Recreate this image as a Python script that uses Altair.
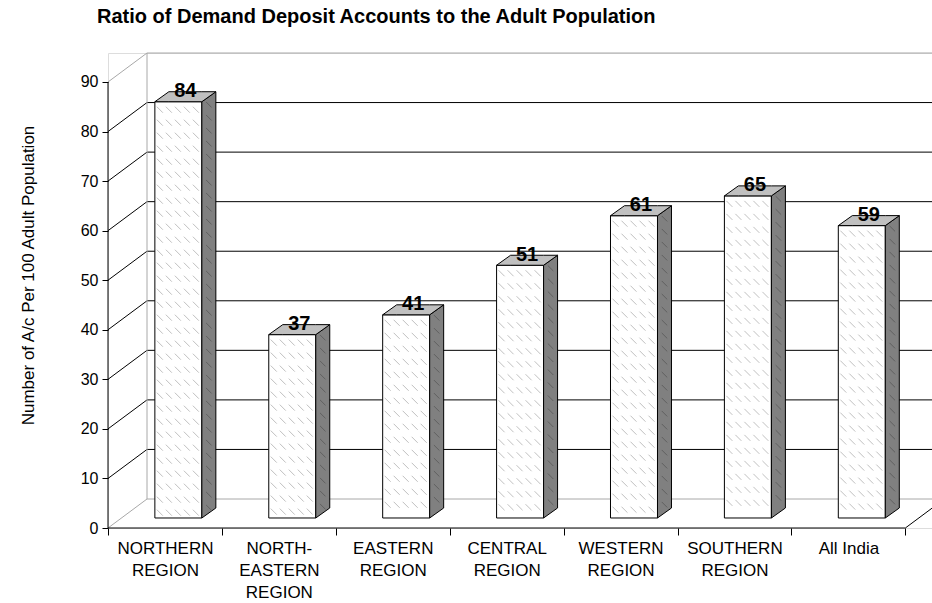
import json
import altair as alt
import numpy as np
import pandas as pd

# ---------------- data ----------------
categories = ["NORTHERN\nREGION", "NORTH-\nEASTERN\nREGION", "EASTERN\nREGION",
              "CENTRAL\nREGION", "WESTERN\nREGION", "SOUTHERN\nREGION", "All India"]
values = [84, 37, 41, 51, 61, 65, 59]
y_ticks = [0, 10, 20, 30, 40, 50, 60, 70, 80, 90]
chart_title = "Ratio of Demand Deposit Accounts to the Adult Population"
y_title = "Number of A/c Per 100 Adult Population"

# ---------------- 3-D geometry (data units) ----------------
N = len(categories)
X_MAX, Y_MAX = 7.234, 95.85          # visible extent of the scales
PX_X, PX_Y = 113.9, 4.956           # pixels per unit (for hatch spacing only)
WALL_DX, WALL_DY = 0.3424, 5.85      # depth of back wall
BAR_DX, BAR_DY = 0.1177, 2.018       # front plane of bars
DEP_DX, DEP_DY = 0.1229, 2.018       # bar depth
HALF_W = 0.2063                      # half of bar front width
FONT = "Liberation Sans"
GRAY = "#a8a8a8"

xs = alt.Scale(domain=[0, X_MAX], nice=False, zero=False)
ys = alt.Scale(domain=[0, Y_MAX], nice=False, zero=False)


def clip_x(x0, y0, x1, y1):
    """truncate a segment at the right edge of the view"""
    if x1 <= X_MAX:
        return x1, y1
    t = (X_MAX - x0) / (x1 - x0)
    return X_MAX, y0 + t * (y1 - y0)


# ---------------- walls / grid ----------------
rows = []
for v in y_ticks:
    col = "black" if 0 < v < 90 else GRAY
    rows.append(dict(x=0, y=v, x2=WALL_DX, y2=v + WALL_DY, c=col))
    rows.append(dict(x=WALL_DX, y=v + WALL_DY, x2=X_MAX, y2=v + WALL_DY, c=col))
rows.append(dict(x=WALL_DX, y=WALL_DY, x2=WALL_DX, y2=y_ticks[-1] + WALL_DY, c=GRAY))
ex, ey = clip_x(N, 0, N + WALL_DX, WALL_DY)
rows.append(dict(x=N, y=0, x2=ex, y2=ey, c="black"))
rows.append(dict(x=0, y=0, x2=N, y2=0, c="black"))
rows.append(dict(x=0, y=0, x2=0, y2=y_ticks[-1], c="black"))
grid_df = pd.DataFrame(rows)

names_expr = json.dumps(["|".join(c.split("\n")) for c in categories])
x_axis = alt.Axis(values=list(range(N + 1)), tickSize=7, tickColor="black", tickWidth=1,
                  domain=False, grid=False, title=None,
                  labelOffset=PX_X / 2, labelOverlap=False, labelFlush=False,
                  labelExpr=f"datum.value < {N} ? split({names_expr}[datum.value], '|') : ''",
                  labelFont=FONT, labelFontSize=17, labelColor="black",
                  labelBaseline="top", labelPadding=5, labelLineHeight=22, labelAlign="center")
y_axis = alt.Axis(values=y_ticks, tickSize=6, tickColor="black", tickWidth=1,
                  domain=False, grid=False, labelFont=FONT, labelFontSize=16,
                  labelColor="black", labelPadding=4,
                  title=y_title, titleFont=FONT, titleFontSize=17, titleFontWeight="normal",
                  titleColor="black", titleAngle=270, titleAlign="center",
                  titleBaseline="middle", titleX=-80, titleY=222)


def X(f):
    return alt.X(f, type="quantitative", scale=xs, axis=x_axis)


def Y(f):
    return alt.Y(f, type="quantitative", scale=ys, axis=y_axis)


grid = alt.Chart(grid_df).mark_rule(strokeWidth=1).encode(
    x=X("x"), x2="x2:Q", y=Y("y"), y2="y2:Q",
    color=alt.Color("c:N", scale=None),
)

# ---------------- bars ----------------
front, side, top, hatch_f, hatch_s, labels = [], [], [], [], [], []
for i, (cat, v) in enumerate(zip(categories, values)):
    c = i + 0.5 + BAR_DX
    x1, x2 = c - HALF_W, c + HALF_W
    y1, y2 = BAR_DY, v + BAR_DY
    front.append(dict(b=i, x1=x1, x2=x2, y1=y1, y2=y2))
    side += [dict(b=i, x=x2, lo=y1, hi=y2),
             dict(b=i, x=x2 + DEP_DX, lo=y1 + DEP_DY, hi=y2 + DEP_DY)]
    top += [dict(b=i, x=x1, lo=y2, hi=y2),
            dict(b=i, x=x1 + DEP_DX, lo=y2, hi=y2 + DEP_DY),
            dict(b=i, x=x2, lo=y2, hi=y2 + DEP_DY),
            dict(b=i, x=x2 + DEP_DX, lo=y2 + DEP_DY, hi=y2 + DEP_DY)]
    labels.append(dict(x=c + DEP_DX / 2, y=v + BAR_DY + 0.9, t=str(v)))
    # hatch pattern (decoration inside faces)
    hx = x1 + (np.arange(5, 47, 9)) / PX_X
    hy = y2 - (np.arange(8, (y2 - y1) * PX_Y - 4, 13)) / PX_Y
    for r, yy in enumerate(hy):
        for xx in hx:
            if xx < x2 - 3 / PX_X:
                hatch_f.append(dict(x=xx, y=yy))
        hatch_s.append(dict(x=x2 + DEP_DX / 2, y=yy + DEP_DY / 2))

front_df = pd.DataFrame(front)
side_df = pd.DataFrame(side)
top_df = pd.DataFrame(top)
hf_df = pd.DataFrame(hatch_f)
hs_df = pd.DataFrame(hatch_s)
lab_df = pd.DataFrame(labels)

front_l = alt.Chart(front_df).mark_rect(fill="white", stroke="black", strokeWidth=1).encode(
    x=X("x1"), x2="x2:Q", y=Y("y1"), y2="y2:Q")

hf_l = alt.Chart(hf_df).mark_point(shape="M-1,-1L1,1", size=36, filled=False,
                                   stroke="#c0c0c0", strokeWidth=1, opacity=1).encode(
    x=X("x"), y=Y("y"))

side_l = alt.Chart(side_df).mark_area(fill="#808080", stroke="black", strokeWidth=1,
                                      orient="vertical", interpolate="linear", opacity=1).encode(
    x=X("x"), y=Y("lo"), y2="hi:Q", detail="b:N")

hs_l = alt.Chart(hs_df).mark_point(shape="M-1,-1L1,1", size=30, filled=False,
                                   stroke="#606060", strokeWidth=1, opacity=1).encode(
    x=X("x"), y=Y("y"))

top_l = alt.Chart(top_df).mark_area(fill="#c0c0c0", stroke="black", strokeWidth=1,
                                    orient="vertical", interpolate="linear", opacity=1).encode(
    x=X("x"), y=Y("lo"), y2="hi:Q", detail="b:N")

lab_l = alt.Chart(lab_df).mark_text(font=FONT, fontSize=20, fontWeight="bold", color="black",
                                    align="center", baseline="alphabetic").encode(
    x=X("x"), y=Y("y"), text="t:N")

chart = alt.layer(grid, front_l, hf_l, side_l, hs_l, top_l, lab_l).properties(
    width=824, height=475,
    autosize=alt.AutoSizeParams(type="none"),
    padding={"left": 108, "top": 53, "right": 0, "bottom": 75},
    title=alt.TitleParams(text=chart_title, anchor="start", frame="group", dx=-11, offset=26,
                          font=FONT, fontSize=20, fontWeight="bold", color="black"),
).configure_view(stroke=None).configure(background="white")

chart.save("out.html", embed_options={"renderer": "svg", "actions": False})
